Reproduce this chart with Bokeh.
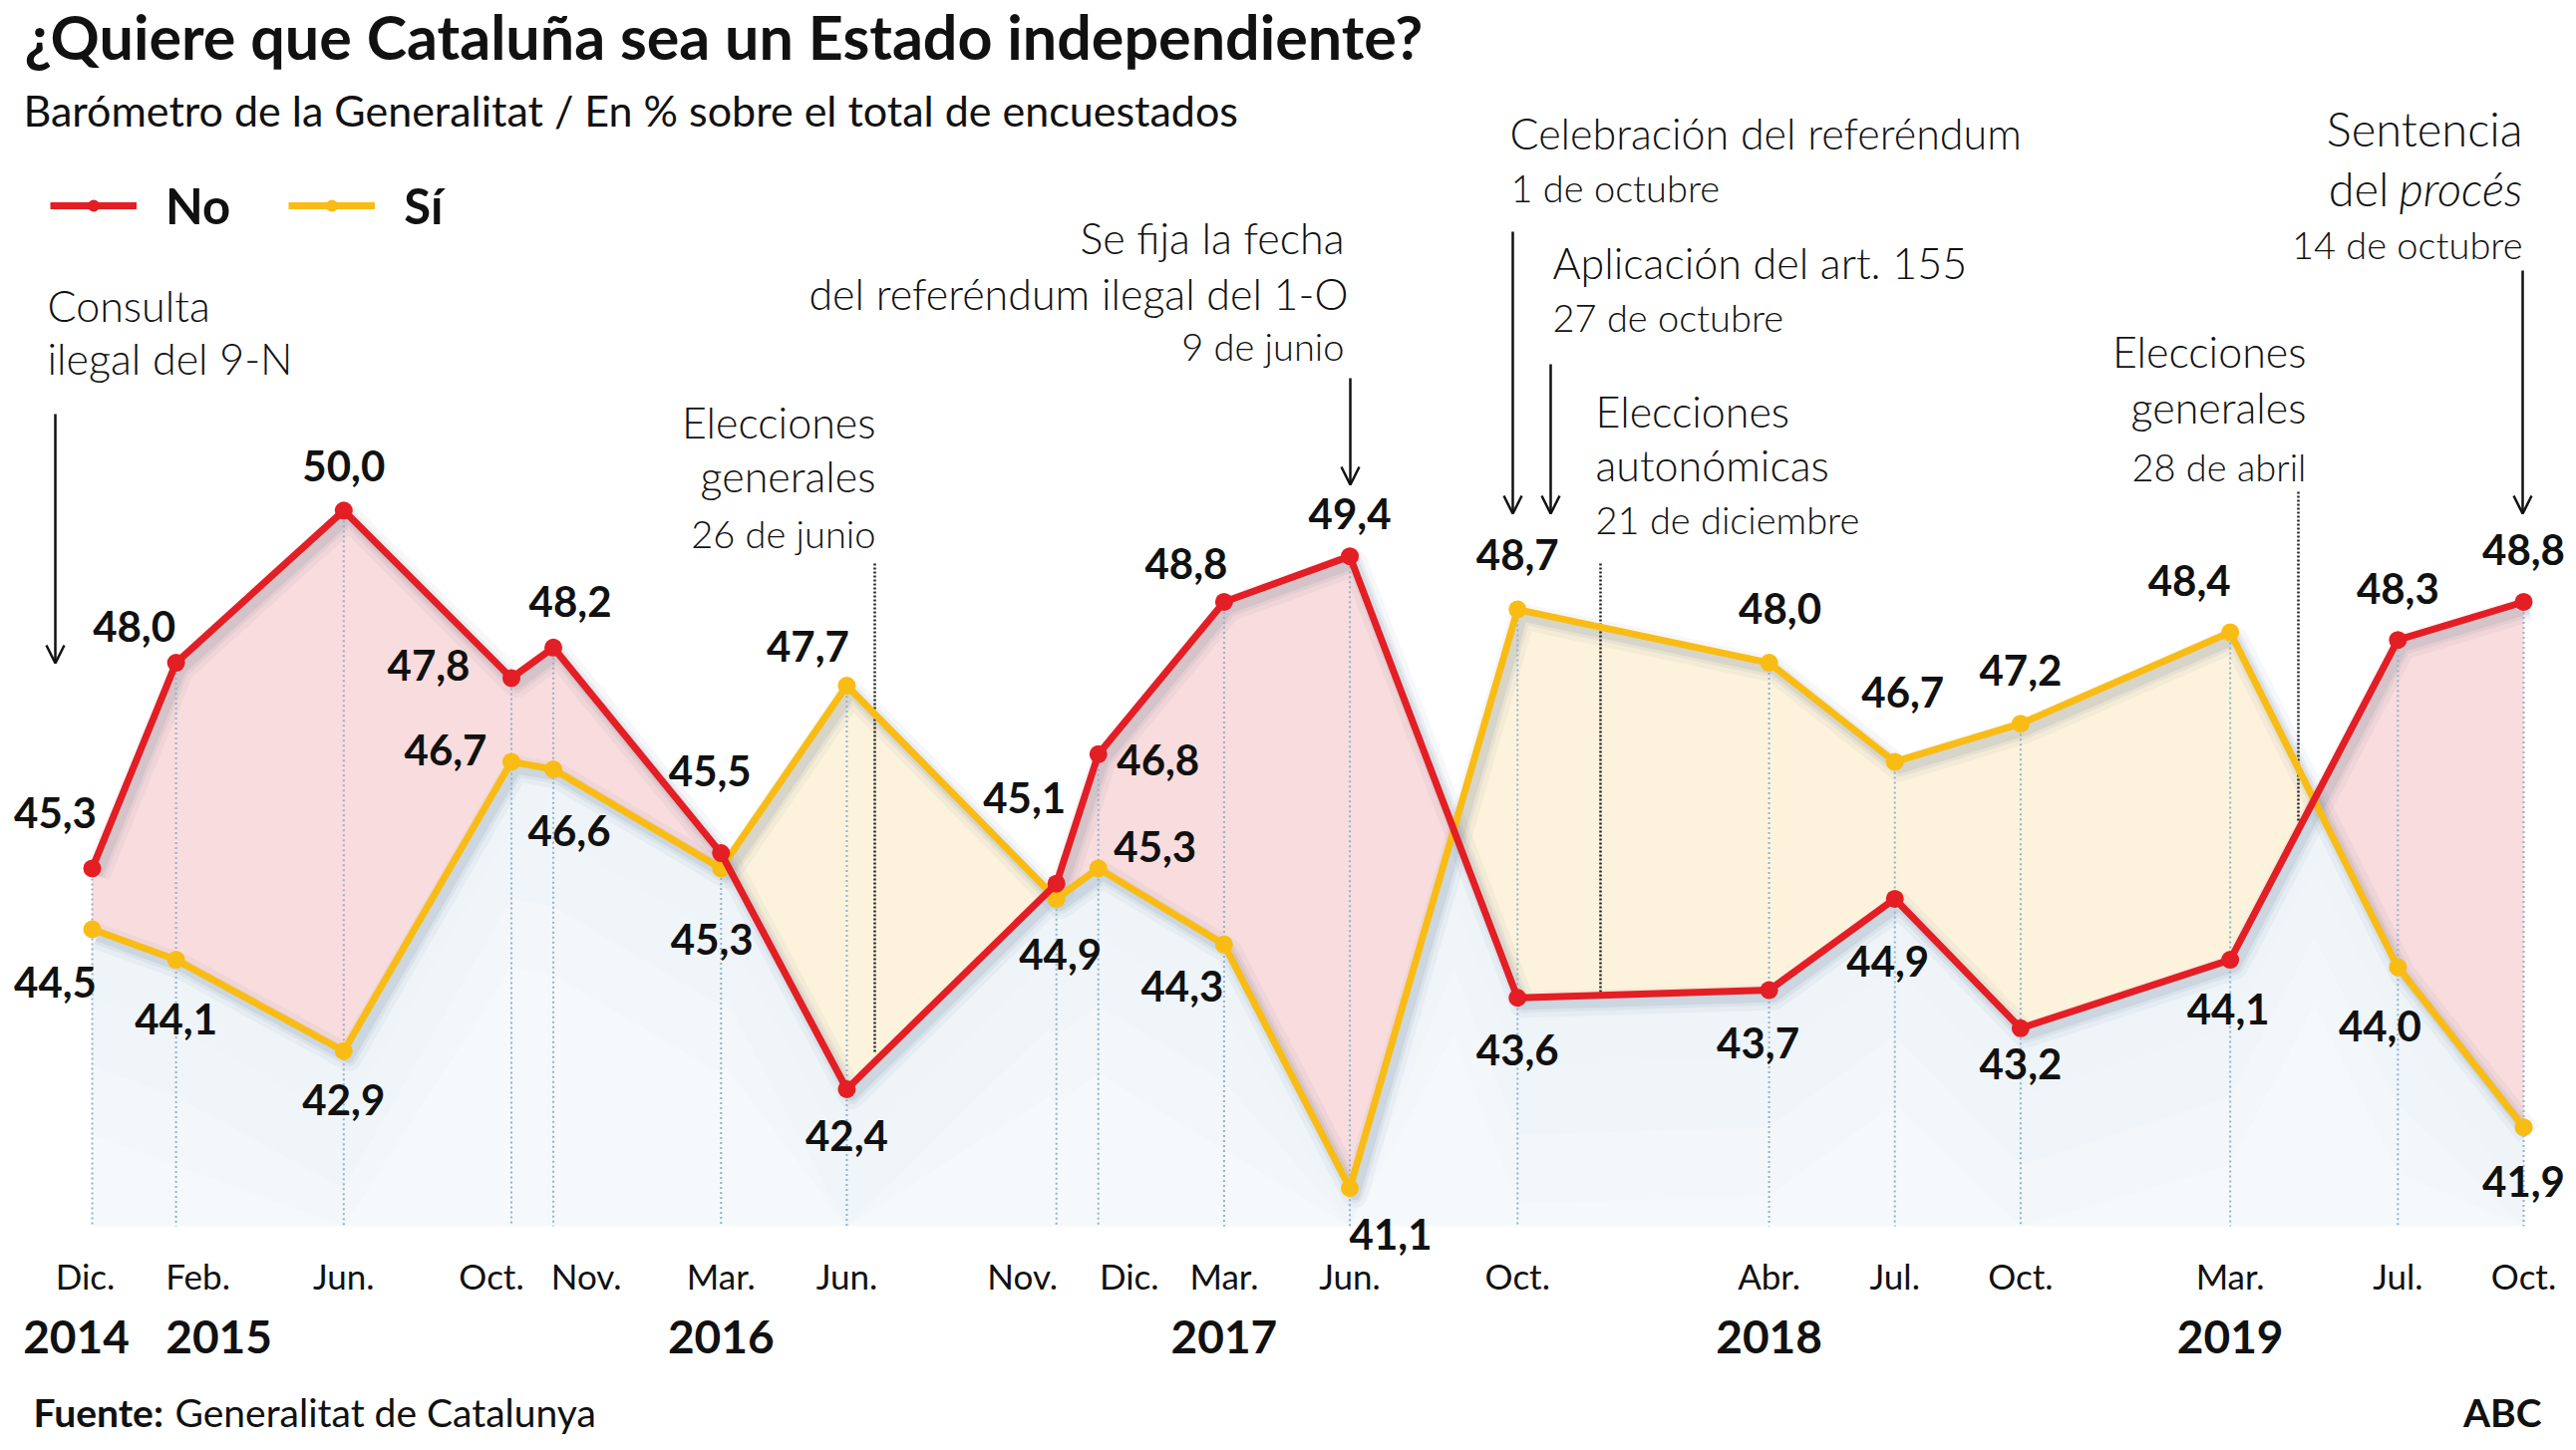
import numpy as np
from bokeh.plotting import figure
from bokeh.models import ColumnDataSource, Range1d, Arrow, OpenHead, Legend, LegendItem
from bokeh.core.properties import value
from bokeh.embed import file_html
from bokeh.resources import INLINE

# ---------------- data ----------------
survey_month = [0, 2, 6, 10, 11, 15, 18, 23, 24, 27, 30, 34, 40, 43, 46, 51, 55, 58]   # months after Dec 2014
month_labels = ["Dic.", "Feb.", "Jun.", "Oct.", "Nov.", "Mar.", "Jun.", "Nov.", "Dic.",
                "Mar.", "Jun.", "Oct.", "Abr.", "Jul.", "Oct.", "Mar.", "Jul.", "Oct."]
no_values = [45.3, 48.0, 50.0, 47.8, 48.2, 45.5, 42.4, 45.1, 46.8, 48.8, 49.4, 43.6, 43.7, 44.9, 43.2, 44.1, 48.3, 48.8]
si_values = [44.5, 44.1, 42.9, 46.7, 46.6, 45.3, 47.7, 44.9, 45.3, 44.3, 41.1, 48.7, 48.0, 46.7, 47.2, 48.4, 44.0, 41.9]
year_labels = ["2014", "2015", "2016", "2017", "2018", "2019"]
year_month = [0, 2, 15, 27, 40, 51]

# ---------------- layout (page pixels) ----------------
W, H = 2580, 1452
X0, X58 = 92.0, 2531.0
PPM = (X58 - X0) / 58.0
Y50, PPU = 511.8, 76.4
BASE_FIX = 0.4   # text baseline correction, in em


def xd(px):
    return (px - X0) / PPM


def yd(py):
    return 50.0 - (py - Y50) / PPU


RED = "#E31E24"
YEL = "#F9BC15"
PINK = "#F9DCDD"
CREAM = "#FDF3DC"
INK = "#111111"
FONT = value("Lato")
LIGHT = value("Lato Light")

p = figure(width=W, height=H, x_range=Range1d(xd(0), xd(W)),
           y_range=Range1d(yd(H), yd(0)), output_backend="svg",
           toolbar_location=None, x_axis_location=None, y_axis_location=None,
           min_border=0, min_border_left=0, min_border_right=0, min_border_top=0,
           min_border_bottom=0, outline_line_color=None,
           background_fill_color="white", border_fill_color="white")
p.grid.visible = False

m = np.array(survey_month, dtype=float)
no = np.array(no_values)
si = np.array(si_values)
base = yd(1230)

# ---- fill between lines, split at crossings ----
pos_xs, pos_ys, neg_xs, neg_ys = [], [], [], []
env_x, env_y = [m[0]], [min(no[0], si[0])]
for i in range(len(m) - 1):
    x0, x1 = m[i], m[i + 1]
    a0, a1, b0, b1 = no[i], no[i + 1], si[i], si[i + 1]
    d0, d1 = a0 - b0, a1 - b1
    if d0 * d1 >= 0:
        (pos_xs if d0 + d1 > 0 else neg_xs).append([x0, x1, x1, x0])
        (pos_ys if d0 + d1 > 0 else neg_ys).append([a0, a1, b1, b0])
    else:
        t = d0 / (d0 - d1)
        xc = x0 + t * (x1 - x0)
        yc = a0 + t * (a1 - a0)
        (pos_xs if d0 > 0 else neg_xs).append([x0, xc, x0])
        (pos_ys if d0 > 0 else neg_ys).append([a0, yc, b0])
        (pos_xs if d1 > 0 else neg_xs).append([xc, x1, x1])
        (pos_ys if d1 > 0 else neg_ys).append([yc, a1, b1])
        env_x.append(xc)
        env_y.append(yc)
    env_x.append(x1)
    env_y.append(min(a1, b1))

env_y = np.array(env_y)
# light blue wash below the lines, a bit stronger close to them
p.varea(x=env_x, y1=[base] * len(env_x), y2=env_y, fill_color="#F6F9FC")
for k in (1, 2, 3):
    p.varea(x=env_x, y1=np.maximum(env_y - 0.9 * k, base), y2=env_y,
            fill_color="#E9F0F6", fill_alpha=0.22)
p.patches(pos_xs, pos_ys, fill_color=PINK, line_color=None)
p.patches(neg_xs, neg_ys, fill_color=CREAM, line_color=None)

# ---- soft shadows under the lines ----
for w, a in [(26, 0.05), (16, 0.075), (10, 0.1)]:
    p.line(m + 0.12, si - 0.09, line_width=w, line_color="#4a6a85", line_alpha=a, line_join="round")
    p.line(m + 0.12, no - 0.09, line_width=w, line_color="#4a6a85", line_alpha=a, line_join="round")

# ---- dotted guide lines from each survey point ----
p.segment(x0=m, y0=np.maximum(no, si), x1=m, y1=[base] * len(m), line_color="#8FB2CB",
          line_width=2, line_dash="2 3")

# ---- event markers ----
for xp, ytop, ybot in [(877, 565, 1056), (1605, 565, 999), (2305, 493, 823)]:
    p.segment(x0=[xd(xp)], y0=[yd(ytop)], x1=[xd(xp)], y1=[yd(ybot)], line_color="#222222",
              line_width=2.5, line_dash="2 2")

for xp, ytop, ybot in [(55, 415, 665), (1354, 379, 486), (1517, 232, 515), (1555, 365, 515), (2530, 271, 515)]:
    p.add_layout(Arrow(x_start=xd(xp), y_start=yd(ytop), x_end=xd(xp), y_end=yd(ybot),
                       line_color=INK, line_width=2.5,
                       end=OpenHead(size=18, line_width=2.5, line_color=INK)))

# ---- series ----
si_line = p.line(m, si, line_width=7, line_color=YEL, line_join="round")
si_dots = p.scatter(m, si, size=18, fill_color=YEL, line_color=None)
no_line = p.line(m, no, line_width=7, line_color=RED, line_join="round")
no_dots = p.scatter(m, no, size=18, fill_color=RED, line_color=None)

# ---- value labels (offsets of label centre from point, px) ----
no_dx = [-37, -42, 0, -83, 17, -11, 0, -32, 60, -38, 0, 0, -11, -7, 0, -2, 0, 0]
no_dy = [-54, -35, -43, -11, -45, -81, 48, -84, 7, -37, -41, 54, 55, 64, 37, 51, -50, -51]
si_dx = [-37, 0, 0, -66, 16, -9, -39, 4, 57, -42, 41, 0, 11, 8, 0, -41, -18, 0]
si_dy = [55, 61, 50, -10, 63, 73, -38, 57, -20, 43, 48, -53, -53, -68, -52, -50, 60, 56]


def fmt(v):
    return f"{v:.1f}".replace(".", ",")


LAB_FS = 42
lab = ColumnDataSource(dict(
    x=list(m) * 2, y=list(no) + list(si),
    text=[fmt(v) for v in no_values] + [fmt(v) for v in si_values],
    dx=no_dx + si_dx,
    dy=[d + 0.36 * LAB_FS - BASE_FIX * LAB_FS for d in no_dy + si_dy]))
p.text(x="x", y="y", text="text", x_offset="dx", y_offset="dy", source=lab,
       text_font=FONT, text_font_style="bold", text_font_size=f"{LAB_FS}px", text_color=INK,
       text_align="center", text_baseline="alphabetic")

# ---- month / year tick labels ----
month_dx = [-7, 22, 0, -20, 33, 0, 0, -34, 31, 0, 0, 0, 0, 0, 0, 0, 0, 0]
year_dx = [-16, 43, 0, 0, 0, 0]
p.text(x=m, y=[yd(1293 - BASE_FIX * 35)] * len(m), text=month_labels, x_offset=month_dx,
       text_font=FONT, text_font_size="35px", text_color=INK, text_align="center",
       text_baseline="alphabetic")
p.text(x=year_month, y=[yd(1359 - BASE_FIX * 46)] * len(year_month), text=year_labels,
       x_offset=year_dx, text_font=FONT, text_font_style="bold", text_font_size="46px",
       text_color=INK, text_align="center", text_baseline="alphabetic")

# ---- annotation texts (page px x, baseline y, align, size, style) ----
notes = [
    ("Consulta", 47, 323, "left", 43, "normal"),
    ("ilegal del 9-N", 47, 376, "left", 43, "normal"),
    ("Se fija la fecha", 1348, 255, "right", 43, "normal"),
    ("del referéndum ilegal del 1-O", 1352, 311, "right", 43, "normal"),
    ("9 de junio", 1348, 362, "right", 38, "normal"),
    ("Elecciones", 878, 440, "right", 43, "normal"),
    ("generales", 878, 494, "right", 43, "normal"),
    ("26 de junio", 878, 550, "right", 38, "normal"),
    ("Celebración del referéndum", 1514, 150, "left", 43, "normal"),
    ("1 de octubre", 1515, 203, "left", 38, "normal"),
    ("Aplicación del art. 155", 1557, 280, "left", 43, "normal"),
    ("27 de octubre", 1557, 333, "left", 38, "normal"),
    ("Elecciones", 1600, 429, "left", 43, "normal"),
    ("autonómicas", 1600, 483, "left", 43, "normal"),
    ("21 de diciembre", 1600, 536, "left", 38, "normal"),
    ("Elecciones", 2313, 369, "right", 43, "normal"),
    ("generales", 2313, 425, "right", 43, "normal"),
    ("28 de abril", 2313, 483, "right", 38, "normal"),
    ("Sentencia", 2530, 147, "right", 47, "normal"),
    ("del", 2396, 207, "right", 47, "normal"),
    ("procés", 2530, 207, "right", 47, "italic"),
    ("14 de octubre", 2530, 260, "right", 38, "normal"),
]
for txt, xp, yp, al, fs, st in notes:
    p.text(x=[xd(xp)], y=[yd(yp - BASE_FIX * fs)], text=[txt], text_font=LIGHT,
           text_font_style=st, text_font_size=f"{fs}px", text_color=INK, text_align=al,
           text_baseline="alphabetic")

# ---- title, subtitle, source ----
heads = [
    ("¿Quiere que Cataluña sea un Estado independiente?", 24, 60, "left", 61, "bold"),
    ("Barómetro de la Generalitat / En % sobre el total de encuestados", 23, 127, "left", 43, "normal"),
    ("Fuente:", 33, 1432, "left", 39, "bold"),
    ("Generalitat de Catalunya", 175, 1432, "left", 39, "normal"),
    ("ABC", 2549, 1432, "right", 39, "bold"),
]
for txt, xp, yp, al, fs, st in heads:
    p.text(x=[xd(xp)], y=[yd(yp - BASE_FIX * fs)], text=[txt], text_font=FONT,
           text_font_style=st, text_font_size=f"{fs}px", text_color=INK, text_align=al,
           text_baseline="alphabetic")

# ---- legend ----
legend = Legend(items=[LegendItem(label="No", renderers=[no_line, no_dots]),
                       LegendItem(label="Sí", renderers=[si_line, si_dots])],
                orientation="horizontal", location=(50, H - 206 - 29), padding=0, margin=0,
                glyph_width=87, glyph_height=30, label_standoff=29, spacing=58,
                label_text_font="Lato", label_text_font_style="bold",
                label_text_font_size="49px", label_text_color=INK,
                border_line_color=None, background_fill_alpha=0)
p.add_layout(legend, "center")

open("out.html", "w").write(file_html(p, INLINE))
